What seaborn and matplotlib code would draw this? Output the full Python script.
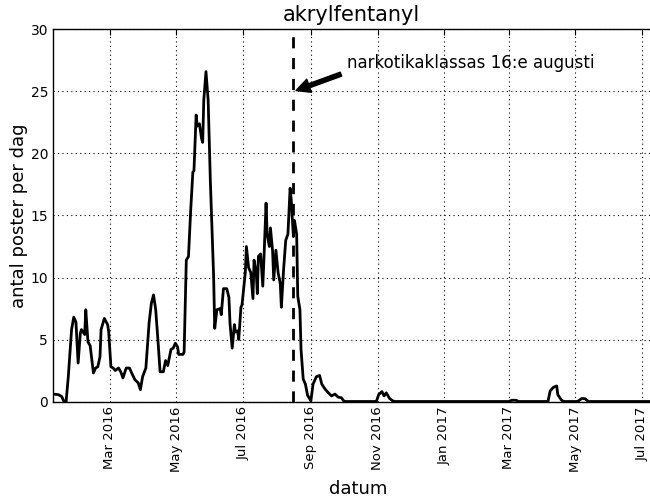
import pandas as pd
import seaborn as sns
import matplotlib
matplotlib.use("Agg")
import matplotlib.pyplot as plt
import matplotlib.dates as mdates

dates = ["2016-01-09", "2016-01-14", "2016-01-17", "2016-01-19", "2016-01-21", "2016-01-23",
         "2016-01-26", "2016-01-28", "2016-01-30", "2016-02-01", "2016-02-03", "2016-02-04",
         "2016-02-07", "2016-02-08", "2016-02-10", "2016-02-12", "2016-02-15", "2016-02-17",
         "2016-02-19", "2016-02-21", "2016-02-22", "2016-02-25", "2016-02-28", "2016-02-29",
         "2016-03-02", "2016-03-04", "2016-03-06", "2016-03-09", "2016-03-11", "2016-03-13",
         "2016-03-16", "2016-03-19", "2016-03-21", "2016-03-24", "2016-03-27", "2016-03-29",
         "2016-03-31", "2016-04-03", "2016-04-06", "2016-04-08", "2016-04-10", "2016-04-12",
         "2016-04-14", "2016-04-16", "2016-04-19", "2016-04-21", "2016-04-23", "2016-04-26",
         "2016-04-28", "2016-04-30", "2016-05-02", "2016-05-03", "2016-05-07", "2016-05-08",
         "2016-05-10", "2016-05-12", "2016-05-14", "2016-05-16", "2016-05-17", "2016-05-19",
         "2016-05-20", "2016-05-22", "2016-05-24", "2016-05-25", "2016-05-26", "2016-05-28",
         "2016-05-30", "2016-06-01", "2016-06-04", "2016-06-05", "2016-06-07", "2016-06-10",
         "2016-06-11", "2016-06-13", "2016-06-16", "2016-06-18", "2016-06-19", "2016-06-21",
         "2016-06-23", "2016-06-24", "2016-06-26", "2016-06-27", "2016-06-29", "2016-06-30",
         "2016-07-03", "2016-07-04", "2016-07-06", "2016-07-08", "2016-07-10", "2016-07-11",
         "2016-07-13", "2016-07-14", "2016-07-15", "2016-07-17", "2016-07-19", "2016-07-20",
         "2016-07-22", "2016-07-23", "2016-07-25", "2016-07-26", "2016-07-28", "2016-07-29",
         "2016-07-31", "2016-08-02", "2016-08-04", "2016-08-05", "2016-08-07", "2016-08-09",
         "2016-08-11", "2016-08-13", "2016-08-14", "2016-08-16", "2016-08-17", "2016-08-19",
         "2016-08-20", "2016-08-22", "2016-08-23", "2016-08-25", "2016-08-27", "2016-08-29",
         "2016-09-01", "2016-09-03", "2016-09-06", "2016-09-09", "2016-09-11", "2016-09-14",
         "2016-09-17", "2016-09-20", "2016-09-23", "2016-09-26", "2016-09-29", "2016-10-01",
         "2016-10-03", "2016-10-31", "2016-11-02", "2016-11-05", "2016-11-07", "2016-11-09",
         "2016-11-12", "2016-11-15", "2016-11-17", "2017-03-01", "2017-03-04", "2017-03-08",
         "2017-03-10", "2017-04-06", "2017-04-08", "2017-04-11", "2017-04-14", "2017-04-15",
         "2017-04-18", "2017-04-20", "2017-05-02", "2017-05-04", "2017-05-07", "2017-05-10",
         "2017-05-13", "2017-07-20"]

posts = [0.6, 0.55, 0.4, 0.0, 0.0, 2.0,
         5.8, 6.8, 6.4, 3.1, 5.5, 5.8,
         5.4, 7.4, 4.8, 4.5, 2.3, 2.7,
         2.8, 3.6, 5.8, 6.7, 6.2, 5.6,
         2.8, 2.7, 2.5, 2.7, 2.4, 1.9,
         2.7, 2.7, 2.3, 1.75, 1.5, 0.95,
         2.0, 2.7, 6.4, 7.9, 8.6, 7.4,
         5.0, 2.4, 2.4, 3.3, 2.9, 4.2,
         4.3, 4.7, 4.4, 3.8, 3.8, 4.0,
         11.4, 11.7, 15.4, 18.5, 18.6, 23.1,
         22.2, 22.4, 21.2, 20.9, 24.3, 26.6,
         24.3, 17.8, 10.1, 5.9, 7.4, 7.5,
         7.0, 9.1, 9.1, 8.4, 6.3, 4.3,
         6.2, 5.6, 5.7, 5.0, 7.6, 7.8,
         10.4, 12.5, 10.8, 10.4, 8.3, 11.4,
         10.4, 8.7, 11.7, 11.9, 9.3, 11.4,
         16.0, 13.5, 12.5, 14.0, 12.1, 9.8,
         12.2, 10.4, 9.5, 7.6, 10.6, 13.0,
         13.5, 17.2, 16.3, 13.3, 14.6, 13.5,
         8.5, 7.4, 4.2, 1.8, 1.4, 0.5,
         0.05, 1.4, 2.0, 2.1, 1.4, 1.0,
         0.7, 0.45, 0.6, 0.35, 0.3, 0.05,
         0.0, 0.0, 0.55, 0.8, 0.45, 0.7,
         0.25, 0.05, 0.0, 0.0, 0.1, 0.1,
         0.0, 0.0, 0.85, 1.15, 1.25, 0.55,
         0.15, 0.0, 0.0, 0.05, 0.25, 0.22,
         0.0, 0.0]

law_date = "2016-08-16"
note = "narkotikaklassas 16:e augusti"
note_pos = ("2016-10-04", 27.3)

df = pd.DataFrame({"datum": pd.to_datetime(dates), "antal": posts})

sns.set_style("white", {"axes.edgecolor": "black", "xtick.direction": "in",
                        "ytick.direction": "in", "xtick.top": True, "ytick.right": True,
                        "axes.grid": True, "grid.color": "black",
                        "text.color": "black", "axes.labelcolor": "black",
                        "xtick.color": "black", "ytick.color": "black"})
plt.rcParams["font.family"] = ["DejaVu Sans"]
plt.rcParams["grid.linewidth"] = 0.8
plt.rcParams["grid.linestyle"] = (0, (1, 3))

fig = plt.figure(figsize=(6.5, 5), dpi=100)
ax = fig.add_axes([53 / 650, 0.197, 0.938, 0.744])

sns.lineplot(data=df, x="datum", y="antal", color="black", linewidth=2, ax=ax)
ax.axvline(pd.Timestamp(law_date), color="black", linestyle="--", linewidth=2, dashes=(4, 3.5))

ax.annotate(note, xy=(pd.Timestamp(law_date), 25), xytext=(pd.Timestamp(note_pos[0]), note_pos[1]),
            fontsize=12, va="center", color="black",
            arrowprops=dict(facecolor="black", edgecolor="black", width=3, headwidth=10,
                            headlength=10, shrink=0.05))

ax.set_xlim(pd.Timestamp("2016-01-09"), pd.Timestamp("2017-07-20"))
ax.set_ylim(0, 30)
ax.set_yticks(range(0, 31, 5))
ax.xaxis.set_major_locator(mdates.MonthLocator(bymonth=[1, 3, 5, 7, 9, 11]))
ax.xaxis.set_major_formatter(mdates.DateFormatter("%b %Y"))
ax.tick_params(axis="x", rotation=90, labelsize=9.5, length=4, color="black", labelcolor="black")
ax.tick_params(axis="y", labelsize=10, length=4, color="black", labelcolor="black")
for s in ax.spines.values():
    s.set_linewidth(1.0)

ax.set_title("akrylfentanyl", fontsize=15, x=0.49, color="black")
ax.set_xlabel("datum", fontsize=13, labelpad=6)
ax.set_ylabel("antal poster per dag", fontsize=13, labelpad=2)

fig.savefig("out.png", dpi=100)
